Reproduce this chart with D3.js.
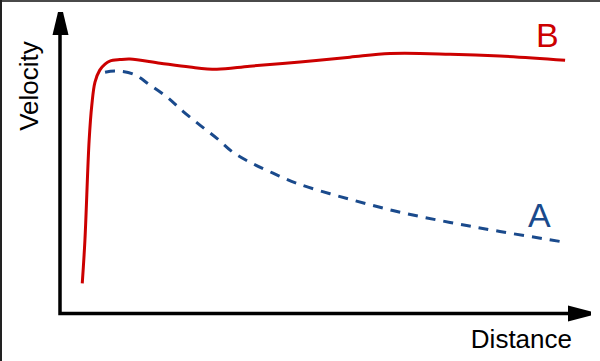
<!DOCTYPE html>
<html>
<head>
<meta charset="utf-8">
<script src="https://cdn.jsdelivr.net/npm/d3@7"></script>
<style>
  body { margin: 0; background: #fff; }
  svg { display: block; font-family: "Liberation Sans", Arial, sans-serif; }
</style>
</head>
<body>
<div id="chart"></div>
<script>
// curve B (solid red): distance, velocity
var bDistance = [4.2, 4.7, 5.5, 6.0, 6.6, 7.5, 8.5, 9.4, 11.3, 13.2, 18.9, 24.5, 29.6, 35.8, 45.3, 54.7, 62.3, 73.6, 83, 95.3];
var bVelocity = [10, 24.3, 57.7, 69.3, 77, 81, 83, 84, 84.5, 84.7, 83.3, 82, 81.3, 82.3, 83.7, 85.3, 86.5, 86.3, 85.7, 84.3];

// curve A (dashed blue)
var aDistance = [8.5, 10.4, 13.8, 17, 20.2, 23.2, 26.4, 29.6, 32.6, 36.2, 40.2, 44.7, 54.7, 64.2, 73.6, 83, 95.3];
var aVelocity = [80.3, 80.7, 79.7, 76, 72, 67.3, 62.7, 58.3, 53.7, 50, 46.7, 43.3, 38, 33.7, 30.3, 27.3, 23.7];

var seriesLabels = ["A", "B"];
var axisLabels = ["Distance", "Velocity"];

var width = 600, height = 361;

var svg = d3.select("#chart").append("svg")
    .attr("width", width)
    .attr("height", height);

// frame edges (top + left only, like the screenshot)
svg.append("rect").attr("x", 0).attr("y", 0).attr("width", width).attr("height", 2).attr("fill", "#4a4a4a");
svg.append("rect").attr("x", 0).attr("y", 0).attr("width", 2).attr("height", height).attr("fill", "#222");

var x = d3.scaleLinear().domain([0, 100]).range([60, 590]);
var y = d3.scaleLinear().domain([0, 100]).range([313.5, 13]);

// axes with arrow heads
svg.append("path")
    .attr("d", "M" + x(0) + "," + y(94) + "V" + y(0) + "H" + x(96))
    .attr("fill", "none")
    .attr("stroke", "#000")
    .attr("stroke-width", 3.5)
    .attr("stroke-linejoin", "miter");

var x0 = x(0) + 0.5, yTop = y(100);
svg.append("polygon")
    .attr("points", [[x0 - 2.5, yTop - 1], [x0 + 2.5, yTop - 1], [x0 + 8, yTop + 22], [x0 - 8, yTop + 22]].join(" "))
    .attr("fill", "#000");

var y0 = y(0), xEnd = x(100) + 1;
svg.append("polygon")
    .attr("points", [[xEnd - 23, y0 - 8], [xEnd, y0 - 2], [xEnd, y0 + 2], [xEnd - 23, y0 + 8]].join(" "))
    .attr("fill", "#000");

var line = d3.line()
    .x(function(d) { return x(d[0]); })
    .y(function(d) { return y(d[1]); })
    .curve(d3.curveCatmullRom.alpha(0.5));

var bData = d3.zip(bDistance, bVelocity);
var aData = d3.zip(aDistance, aVelocity);

svg.append("path")
    .datum(aData)
    .attr("d", line)
    .attr("fill", "none")
    .attr("stroke", "#1a4a8c")
    .attr("stroke-width", 3)
    .attr("stroke-dasharray", "10,8");

svg.append("path")
    .datum(bData)
    .attr("d", line)
    .attr("fill", "none")
    .attr("stroke", "#cc0000")
    .attr("stroke-width", 3)
    .attr("stroke-linecap", "butt");

// labels
svg.append("text")
    .attr("x", 572).attr("y", 348)
    .attr("text-anchor", "end")
    .attr("font-size", 26)
    .attr("fill", "#000")
    .text(axisLabels[0]);

svg.append("text")
    .attr("transform", "translate(38,86) rotate(-90)")
    .attr("text-anchor", "middle")
    .attr("font-size", 26)
    .attr("fill", "#000")
    .text(axisLabels[1]);

svg.append("text")
    .attr("x", 536).attr("y", 47)
    .attr("font-size", 34)
    .attr("fill", "#cc0000")
    .text(seriesLabels[1]);

svg.append("text")
    .attr("x", 528).attr("y", 227)
    .attr("font-size", 34)
    .attr("fill", "#1a4a8c")
    .text(seriesLabels[0]);
</script>
</body>
</html>
